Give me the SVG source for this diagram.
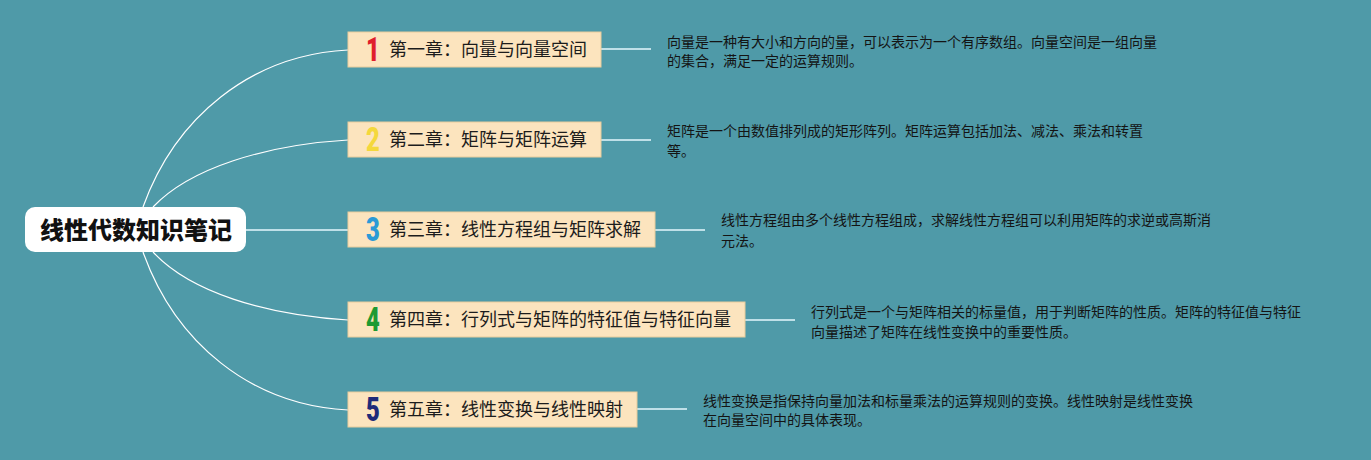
<svg xmlns="http://www.w3.org/2000/svg" width="1371" height="460" viewBox="0 0 1371 460">
<style>
.bg{fill:#4F9AA8}
.chap rect{fill:#FCE4BE;stroke:#E9CC9B;stroke-width:1}
.chap text.t{font-family:"Noto Sans CJK SC","Noto Sans",sans-serif;font-size:18px;fill:#1c1c1c}
.num{font-family:Roboto,"DejaVu Sans",sans-serif;font-weight:900;font-size:33px}
.desc{font-family:"Noto Sans CJK SC","Noto Sans",sans-serif;font-size:14px;fill:#141414}
.curve{fill:none;stroke:#ffffff;stroke-width:1.2}
.link{fill:none;stroke:#BFE0E8;stroke-width:2}
</style>
<rect class="bg" x="0" y="0" width="1371" height="460"/>
<g id="connectors">
<path class="curve" d="M143,207 C175,118 250,55 348,50"/>
<path class="curve" d="M153,207 C190,168 265,145 348,140"/>
<path class="link" d="M246,230 L348,230"/>
<path class="curve" d="M153,252 C190,292 265,315 348,320"/>
<path class="curve" d="M143,252 C175,342 250,405 348,410"/>
<path class="link" d="M601,49 L651,49"/>
<path class="link" d="M601,140 L651,140"/>
<path class="link" d="M655,230 L705,230"/>
<path class="link" d="M745,320 L795,320"/>
<path class="link" d="M637,409 L687,409"/>
</g>
<g id="root">
<rect x="25" y="207" width="221" height="45" rx="10" fill="#ffffff"/>
<text x="136" y="239" text-anchor="middle" font-family="'Noto Sans CJK SC','Noto Sans',sans-serif" font-weight="900" font-size="24" fill="#111">线性代数知识笔记</text>
</g>
<g id="chapter1" class="chap">
<rect x="348" y="32" width="253" height="35"/>
<text class="num" transform="translate(373,61) scale(0.72,1)" text-anchor="middle" fill="#E01E2B">1</text>
<text class="t" x="389" y="56">第一章：向量与向量空间</text>
</g>
<g id="chapter2" class="chap">
<rect x="348" y="122" width="253" height="35"/>
<text class="num" transform="translate(373,151) scale(0.72,1)" text-anchor="middle" fill="#F4D83C">2</text>
<text class="t" x="389" y="146">第二章：矩阵与矩阵运算</text>
</g>
<g id="chapter3" class="chap">
<rect x="348" y="212" width="307" height="35"/>
<text class="num" transform="translate(373,241) scale(0.72,1)" text-anchor="middle" fill="#2A9AD6">3</text>
<text class="t" x="389" y="236">第三章：线性方程组与矩阵求解</text>
</g>
<g id="chapter4" class="chap">
<rect x="348" y="302" width="397" height="35"/>
<text class="num" transform="translate(373,331) scale(0.72,1)" text-anchor="middle" fill="#1E9A32">4</text>
<text class="t" x="389" y="326">第四章：行列式与矩阵的特征值与特征向量</text>
</g>
<g id="chapter5" class="chap">
<rect x="348" y="392" width="289" height="35"/>
<text class="num" transform="translate(373,421) scale(0.72,1)" text-anchor="middle" fill="#1F2B78">5</text>
<text class="t" x="389" y="416">第五章：线性变换与线性映射</text>
</g>
<g id="desc1" class="desc">
<text class="desc" x="667" y="47">向量是一种有大小和方向的量，可以表示为一个有序数组。向量空间是一组向量</text>
<text class="desc" x="667" y="66">的集合，满足一定的运算规则。</text>
</g>
<g id="desc2" class="desc">
<text class="desc" x="667" y="136">矩阵是一个由数值排列成的矩形阵列。矩阵运算包括加法、减法、乘法和转置</text>
<text class="desc" x="667" y="156">等。</text>
</g>
<g id="desc3" class="desc">
<text class="desc" x="721" y="225">线性方程组由多个线性方程组成，求解线性方程组可以利用矩阵的求逆或高斯消</text>
<text class="desc" x="721" y="246">元法。</text>
</g>
<g id="desc4" class="desc">
<text class="desc" x="811" y="317">行列式是一个与矩阵相关的标量值，用于判断矩阵的性质。矩阵的特征值与特征</text>
<text class="desc" x="811" y="337">向量描述了矩阵在线性变换中的重要性质。</text>
</g>
<g id="desc5" class="desc">
<text class="desc" x="703" y="406">线性变换是指保持向量加法和标量乘法的运算规则的变换。线性映射是线性变换</text>
<text class="desc" x="703" y="425">在向量空间中的具体表现。</text>
</g>
</svg>
